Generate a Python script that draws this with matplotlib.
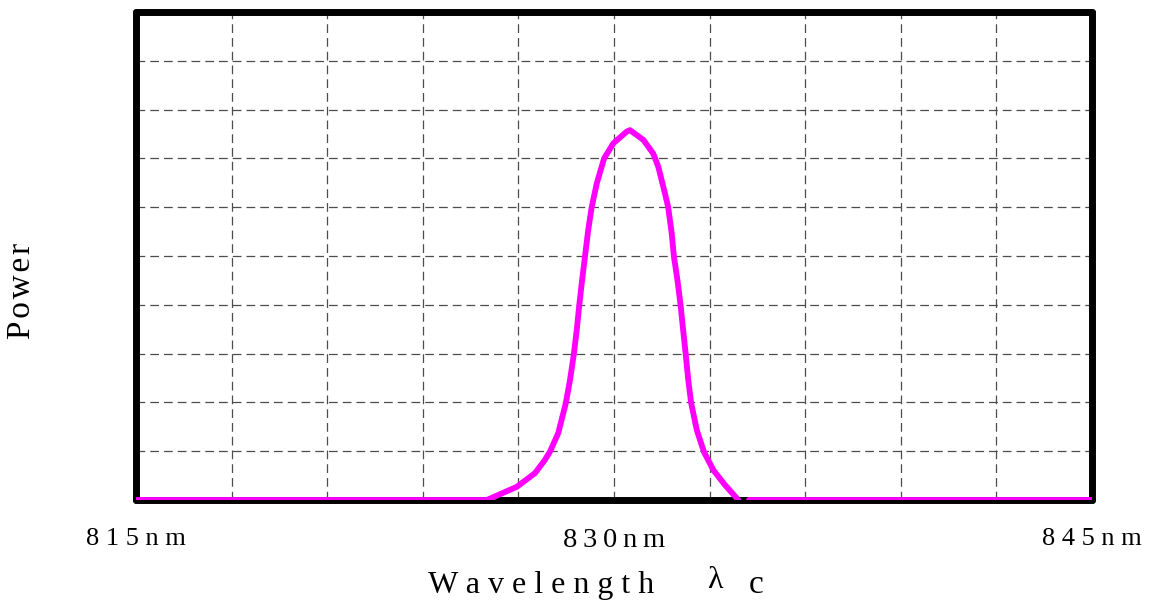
import matplotlib.pyplot as plt
import numpy as np

plt.rcParams['font.family'] = ['Liberation Serif', 'DejaVu Serif']

# spectrum (nm, power in grid units 0..10)
wl = [826.01, 826.95, 827.52, 827.83, 827.99, 828.25, 828.49, 828.62, 828.74,
      828.83, 828.91, 829.00, 829.09, 829.19, 829.30, 829.46, 829.69, 829.98,
      830.40, 830.50, 830.92, 831.23, 831.39, 831.60, 831.70, 831.81, 831.88,
      831.99, 832.09, 832.17, 832.25, 832.33, 832.42, 832.60, 832.82, 833.12,
      833.48, 833.90]
power = [0.0, 0.27, 0.55, 0.82, 0.99, 1.37, 1.99, 2.46, 2.99,
         3.48, 3.99, 4.51, 4.99, 5.53, 6.00, 6.49, 7.00, 7.31,
         7.55, 7.58, 7.38, 7.10, 6.83, 6.28, 6.00, 5.47, 4.99,
         4.51, 3.99, 3.48, 2.99, 2.46, 1.99, 1.43, 0.99, 0.61,
         0.31, 0.0]
base_left = [815, 826.01]
base_right = [834.25, 845]
grid_x = np.arange(815, 846, 3)
grid_y = np.arange(0, 11, 1)
tick_text = {815: "8 1 5 n m", 830: "8\u20093\u20090\u2009n\u2009m", 845: "8 4 5 n m"}

fig = plt.figure(figsize=(11.56, 6.02), dpi=100)
ax = fig.add_axes([136/1156, 1-500/602, 956/1156, 488/602])

mag = '#ff00ff'
ax.plot(base_left, [0, 0], color=mag, lw=4.2, solid_capstyle='round', zorder=5)
ax.plot(wl, power, color=mag, lw=4.2, solid_capstyle='round', solid_joinstyle='round', zorder=5)
ax.plot(base_right, [0, 0], color=mag, lw=4.2, solid_capstyle='round', zorder=5)

ax.set_xlim(815, 845)
ax.set_ylim(0, 10)
ax.set_xticks(grid_x, [tick_text.get(int(v), "") for v in grid_x])
ax.set_yticks(grid_y, [])
ax.tick_params(length=0, labelsize=19, pad=20)
for lab in ax.get_xticklabels():
    if lab.get_text().startswith("8\u2009"):
        lab.set_fontsize(20.5)
ax.grid(True, color='#4d4d4d', lw=0.9, dashes=(7, 4))
ax.set_axisbelow(True)

for s in ax.spines.values():
    s.set_linewidth(5)
    s.set_capstyle('round')
    s.set_joinstyle('round')
    s.set_zorder(4)

fig.text(22/1156, 1-291/602, "P o w e r".replace(" ", "\u200a"), rotation=90,
         ha='center', va='center', fontsize=24)
fig.text(428/1156, 1-593/602, "W a v e l e n g t h", ha='left', va='baseline', fontsize=23)
fig.text(715/1156, 1-588/602, "\u03bb", ha='center', va='baseline', fontsize=23)
fig.text(756/1156, 1-593/602, "c", ha='center', va='baseline', fontsize=24)

fig.savefig("out.png", dpi=100)
